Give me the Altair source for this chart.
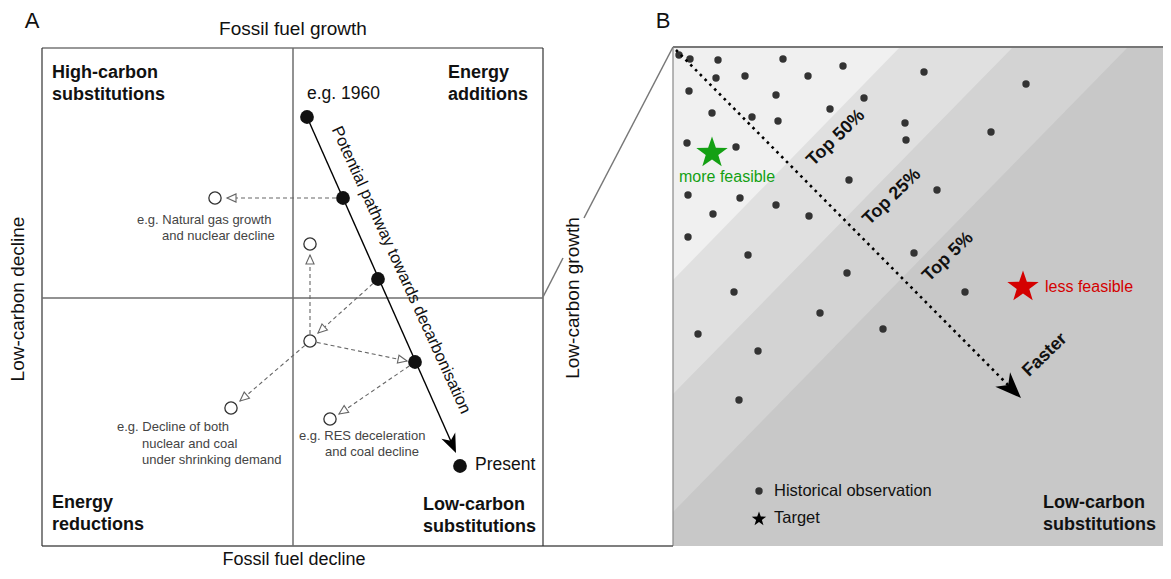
import altair as alt
import pandas as pd
import numpy as np

# ---------------- canvas (diagram coordinates = image pixels) ----------------
W, H = 1155, 563
XS = alt.Scale(domain=[8, 8 + W])
YS = alt.Scale(domain=[8, 8 + H], reverse=True)
FONT = "Liberation Sans"

# ---------------- panel A data ----------------
frame_x0 = [42, 42, 42, 543, 293, 42]
frame_x1 = [543, 673, 42, 543, 293, 543]
frame_y0 = [48, 546, 48, 48, 48, 298]
frame_y1 = [48, 546, 546, 546, 546, 298]
frame_col = ["#333333", "#555555", "#333333", "#333333", "#6e6e6e", "#6e6e6e"]
frame_w = [1.2, 1.4, 1.2, 1.2, 1.5, 1.5]

# pathway (filled) points
path_x = [307, 343, 378, 415, 460]
path_y = [117, 198, 279, 362, 466]
path_tip_x, path_tip_y = 456, 453

# alternative (open) points
open_x = [215, 310, 310, 231, 330]
open_y = [198, 244, 341, 408, 419]

# dashed arrows: start -> tip
dash_x0 = [343, 310, 378, 310, 310, 415]
dash_y0 = [198, 341, 279, 341, 341, 362]
dash_x1 = [227, 310, 318, 407, 240, 339]
dash_y1 = [198, 255, 333, 361, 401, 414]

# ---------------- panel B data ----------------
B_x0, B_x1, B_y0, B_y1 = 673, 1171, 47, 546
band_top_x = [1128, 1013, 900]
band_left_y = [512, 394, 280]
band_colors = ["#d3d3d3", "#e0e0e0", "#f0f0f0"]
band_base = "#c8c8c8"

obs_x = [679, 690, 718, 783, 843, 924, 716, 745, 808, 1026, 689, 776, 864, 830,
         712, 752, 778, 905, 991, 906, 687, 736, 849, 688, 740, 937, 776, 713,
         809, 688, 748, 914, 847, 734, 965, 820, 698, 883, 758, 739]
obs_y = [55, 59, 60, 59, 66, 72, 78, 76, 76, 84, 91, 95, 98, 109,
         113, 117, 121, 123, 132, 140, 143, 147, 180, 195, 198, 190, 205, 214,
         216, 237, 255, 253, 273, 292, 292, 313, 334, 329, 351, 400]

star_x = [712, 1023]
star_y = [153, 287]
star_col = ["#14a014", "#d40000"]

zoom_x0 = [543, 584]
zoom_y0 = [297, 218]
zoom_x1 = [563, 673]
zoom_y1 = [258, 47]

faster_x0, faster_y0 = 676, 50
faster_tip_x, faster_tip_y = 1021, 398

# ---------------- text ----------------
bold_txt = ["High-carbon", "substitutions", "Energy", "additions", "Energy", "reductions",
            "Low-carbon", "substitutions", "Low-carbon", "substitutions"]
bold_x = [52, 52, 448, 448, 52, 52, 423, 423, 1043, 1043]
bold_y = [73, 95, 73, 95, 503, 525, 505, 527, 503, 525]

ax_txt = ["Fossil fuel growth", "Fossil fuel decline"]
ax_x = [293, 294]
ax_y = [29, 560]
vax_txt = ["Low-carbon decline", "Low-carbon growth"]
vax_x = [18, 573]
vax_y = [299, 298]

letter_txt = ["A", "B"]
letter_x = [32, 663]
letter_y = [21, 21]

small_txt = ["e.g. Natural gas growth", "and nuclear decline", "e.g. Decline of both",
             "nuclear and coal", "under shrinking demand", "e.g. RES deceleration",
             "and coal decline"]
small_x = [137, 162, 117, 142, 142, 299, 325]
small_y = [220, 236, 427, 444, 460, 436, 452]

med_txt = ["e.g. 1960", "Present"]
med_x = [307, 475]
med_y = [94, 465]

top_txt = ["Top 50%", "Top 25%", "Top 5%", "Faster"]
top_x = [836, 892, 948, 1045]
top_y = [138, 197, 257, 355]

feas_txt = ["more feasible", "less feasible"]
feas_x = [679, 1045]
feas_y = [177, 287]

leg_txt = ["Historical observation", "Target"]
leg_x = [774, 774]
leg_y = [491, 518]
leg_mark_x = [759, 759]
leg_mark_y = [491, 519]

# ---------------- helpers ----------------
def X(f="x"):
    return alt.X(f + ":Q", scale=XS, axis=None)


def Y(f="y"):
    return alt.Y(f + ":Q", scale=YS, axis=None)


def rules(df, color, width, dash=None):
    kw = dict(color=color, strokeWidth=width)
    if dash:
        kw["strokeDash"] = dash
    return alt.Chart(df).mark_rule(**kw).encode(
        x=X("x0"), y=Y("y0"), x2=alt.X2("x1:Q"), y2=alt.Y2("y1:Q"))


def texts(txt, xs, ys, size, align="left", weight="normal", color="#111111", angle=0):
    df = pd.DataFrame({"t": txt, "x": xs, "y": ys})
    kw = dict(font=FONT, fontSize=size, align=align, baseline="middle",
              fontWeight=weight, color=color)
    if angle:
        kw["angle"] = angle
    return alt.Chart(df).mark_text(**kw).encode(x=X(), y=Y(), text="t:N")


def arrowheads(x0, y0, x1, y1, length):
    x0, y0, x1, y1 = map(lambda v: np.asarray(v, dtype=float), (x0, y0, x1, y1))
    dx, dy = x1 - x0, y1 - y0
    n = np.hypot(dx, dy)
    ang = np.degrees(np.arctan2(dy, dx)) % 360
    return pd.DataFrame({"x": x1 - dx / n * length / 2, "y": y1 - dy / n * length / 2, "ang": ang})


def star_path(inner=0.4):
    pts = []
    for k in range(10):
        r = 1.0 if k % 2 == 0 else inner
        a = np.radians(-90 + 36 * k)
        pts.append(f"{r * np.cos(a):.4f},{r * np.sin(a):.4f}")
    return "M" + "L".join(pts) + "Z"


BARB = "M1,0L-1,-0.8L-0.4,0L-1,0.8Z"
TRI = "M1,0L-1,-0.9L-1,0.9Z"
STAR = star_path(0.4)

layers = []

# ---- panel B background and bands ----
layers.append(alt.Chart(pd.DataFrame({"x0": [B_x0], "x1": [B_x1], "y0": [B_y0], "y1": [B_y1]}))
              .mark_rect(color=band_base).encode(x=X("x0"), x2=alt.X2("x1:Q"), y=Y("y0"), y2=alt.Y2("y1:Q")))
for tx, ly, col in zip(band_top_x, band_left_y, band_colors):
    df = pd.DataFrame({"x": [B_x0, tx], "y": [B_y0, B_y0], "y2": [ly, B_y0]})
    layers.append(alt.Chart(df).mark_area(color=col, opacity=1).encode(
        x=X(), y=alt.Y("y:Q", scale=YS, axis=None, stack=None), y2=alt.Y2("y2:Q")))

# panel B borders
layers.append(rules(pd.DataFrame({"x0": [B_x0], "x1": [B_x1], "y0": [B_y0], "y1": [B_y0]}), "#777777", 2.2))
layers.append(rules(pd.DataFrame({"x0": [B_x0], "x1": [B_x0], "y0": [B_y0], "y1": [B_y1]}), "#888888", 1.2))

# observations
layers.append(alt.Chart(pd.DataFrame({"x": obs_x, "y": obs_y})).mark_circle(
    size=55, color="#333333", opacity=1).encode(x=X(), y=Y()))

# dotted "Faster" arrow
layers.append(rules(pd.DataFrame({"x0": [faster_x0], "y0": [faster_y0],
                                  "x1": [faster_tip_x - 8], "y1": [faster_tip_y - 8]}),
                    "#000000", 2.6, [2.6, 4.2]))
fa = arrowheads([faster_x0], [faster_y0], [faster_tip_x], [faster_tip_y], 26)
layers.append(alt.Chart(fa).mark_point(shape=BARB, size=676, filled=True, color="#000000", opacity=1)
              .encode(x=X(), y=Y(), angle=alt.Angle("ang:Q", scale=None)))

# targets
for sx, sy, sc in zip(star_x, star_y, star_col):
    layers.append(alt.Chart(pd.DataFrame({"x": [sx], "y": [sy]})).mark_point(
        shape=STAR, size=1089, filled=True, color=sc, opacity=1).encode(x=X(), y=Y()))

# legend marks
layers.append(alt.Chart(pd.DataFrame({"x": leg_mark_x[:1], "y": leg_mark_y[:1]})).mark_circle(
    size=55, color="#333333", opacity=1).encode(x=X(), y=Y()))
layers.append(alt.Chart(pd.DataFrame({"x": leg_mark_x[1:], "y": leg_mark_y[1:]})).mark_point(
    shape=STAR, size=231, filled=True, color="#000000", opacity=1).encode(x=X(), y=Y()))

# ---- panel A frame ----
for i in range(len(frame_x0)):
    layers.append(rules(pd.DataFrame({"x0": [frame_x0[i]], "x1": [frame_x1[i]],
                                      "y0": [frame_y0[i]], "y1": [frame_y1[i]]}),
                        frame_col[i], frame_w[i]))

# zoom connector
layers.append(rules(pd.DataFrame({"x0": zoom_x0, "y0": zoom_y0, "x1": zoom_x1, "y1": zoom_y1}),
                    "#777777", 1.5))

# dashed alternative arrows
layers.append(rules(pd.DataFrame({"x0": dash_x0, "y0": dash_y0, "x1": dash_x1, "y1": dash_y1}),
                    "#666666", 1.1, [4, 3]))
ta = arrowheads(dash_x0, dash_y0, dash_x1, dash_y1, 9)
layers.append(alt.Chart(ta).mark_point(shape=TRI, size=81, filled=True, fill="#ffffff",
                                       stroke="#666666", strokeWidth=1.1, opacity=1)
              .encode(x=X(), y=Y(), angle=alt.Angle("ang:Q", scale=None)))

# pathway line + arrow
layers.append(rules(pd.DataFrame({"x0": [path_x[0]], "y0": [path_y[0]],
                                  "x1": [path_tip_x - 3], "y1": [path_tip_y - 7]}), "#000000", 1.4))
pa = arrowheads([path_x[0]], [path_y[0]], [path_tip_x], [path_tip_y], 19)
layers.append(alt.Chart(pa).mark_point(shape=BARB, size=361, filled=True, color="#000000", opacity=1)
              .encode(x=X(), y=Y(), angle=alt.Angle("ang:Q", scale=None)))

# points
layers.append(alt.Chart(pd.DataFrame({"x": open_x, "y": open_y})).mark_point(
    shape="circle", size=150, filled=True, fill="#ffffff",
    stroke="#333333", strokeWidth=1.3, opacity=1).encode(x=X(), y=Y()))
layers.append(alt.Chart(pd.DataFrame({"x": path_x, "y": path_y})).mark_circle(
    size=190, color="#111111", opacity=1).encode(x=X(), y=Y()))

# ---- text ----
layers.append(texts(bold_txt, bold_x, bold_y, 18, weight="bold"))
layers.append(texts(ax_txt[:1], ax_x[:1], ax_y[:1], 19, align="center"))
layers.append(texts(ax_txt[1:], ax_x[1:], ax_y[1:], 18, align="center"))
layers.append(texts(vax_txt, vax_x, vax_y, 19, align="center", angle=270))
layers.append(texts(letter_txt, letter_x, letter_y, 22, align="center"))
layers.append(texts(small_txt, small_x, small_y, 13, color="#444444"))
layers.append(texts(med_txt, med_x, med_y, 17.5))
layers.append(texts(["Potential pathway towards decarbonisation"], [401], [270], 16.5,
                    align="center", angle=65.5))
layers.append(texts(top_txt, top_x, top_y, 18, align="center", weight="bold", angle=316))
layers.append(texts(feas_txt[:1], feas_x[:1], feas_y[:1], 16, color=star_col[0]))
layers.append(texts(feas_txt[1:], feas_x[1:], feas_y[1:], 16, color=star_col[1]))
layers.append(texts(leg_txt, leg_x, leg_y, 16.5))

chart = alt.layer(*layers).properties(
    width=W, height=H, padding=0, autosize=alt.AutoSizeParams(type="none"),
    background="#ffffff"
).configure_view(stroke=None)

chart.save("out.html", embed_options={"renderer": "svg", "actions": False})
